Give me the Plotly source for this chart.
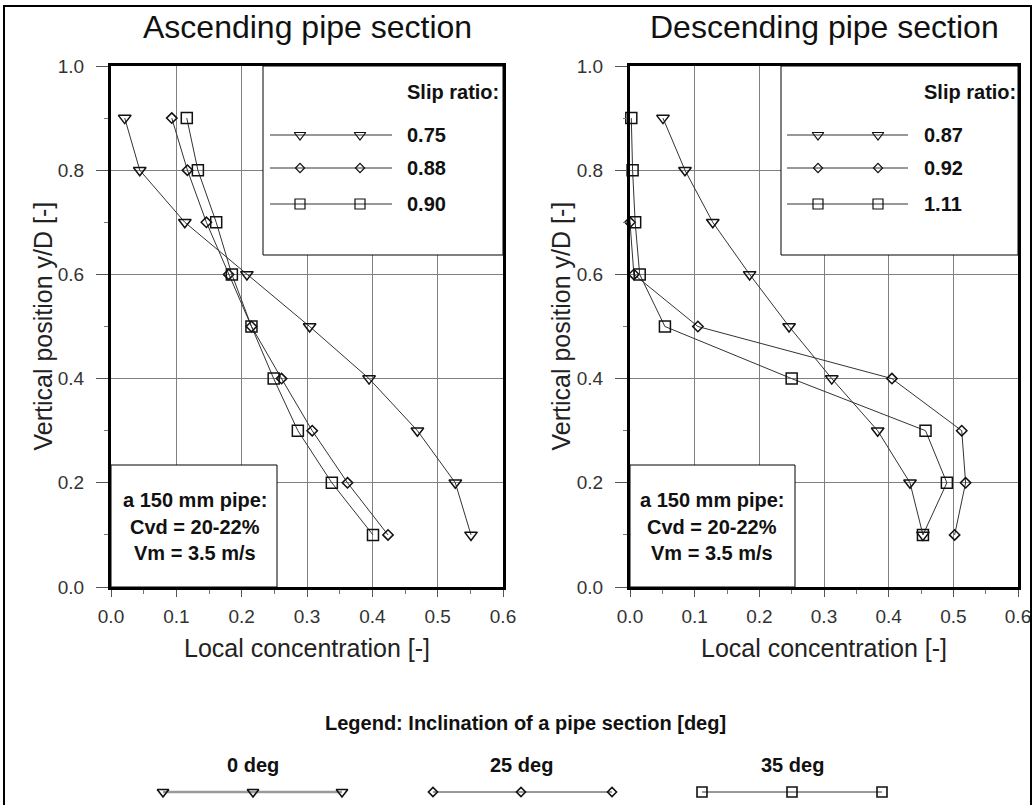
import plotly.graph_objects as go

# ---------------- data ----------------
y_levels = [0.9, 0.8, 0.7, 0.6, 0.5, 0.4, 0.3, 0.2, 0.1]

asc_0deg = [0.021, 0.044, 0.113, 0.208, 0.304, 0.395, 0.469, 0.527, 0.551]
asc_25deg = [0.093, 0.117, 0.146, 0.180, 0.215, 0.261, 0.308, 0.362, 0.424]
asc_35deg = [0.116, 0.133, 0.161, 0.185, 0.215, 0.249, 0.286, 0.338, 0.401]

desc_0deg = [0.051, 0.085, 0.128, 0.185, 0.246, 0.312, 0.383, 0.433, 0.453]
desc_25deg_y = [0.7, 0.6, 0.5, 0.4, 0.3, 0.2, 0.1]
desc_25deg = [0.000, 0.006, 0.105, 0.405, 0.513, 0.519, 0.502]
desc_35deg = [0.002, 0.004, 0.008, 0.015, 0.054, 0.250, 0.457, 0.490, 0.453]

asc_slip = ["0.75", "0.88", "0.90"]
desc_slip = ["0.87", "0.92", "1.11"]
inclinations = ["0 deg", "25 deg", "35 deg"]

x_ticks = [0.0, 0.1, 0.2, 0.3, 0.4, 0.5, 0.6]
y_ticks = [0.0, 0.2, 0.4, 0.6, 0.8, 1.0]

# ---------------- layout constants ----------------
W, H = 1035, 805
FONT = "Liberation Sans, Arial, sans-serif"
symbols = ["triangle-down-open", "diamond-open", "square-open"]
msizes = [11, 8, 11]
LINE_C = "#333333"
MK_C = "#111111"

L_X0, L_X1 = 111, 503
R_X0, R_X1 = 630, 1018
P_Y0, P_Y1 = 66, 587
X_MAX, Y_MAX = 0.6, 1.0


def px(x):
    return x / W


def py(y):
    return 1 - y / H


fig = go.Figure()


# ---------------- white boxes inside the plots (drawn as fill traces) ----------------
def add_box(xa, ya, ax_x0, ax_x1, bx0, bx1, by0, by1):
    def dx(p):
        return (p - ax_x0) / (ax_x1 - ax_x0) * X_MAX

    def dy(p):
        return (P_Y1 - p) / (P_Y1 - P_Y0) * Y_MAX

    xs = [dx(bx0), dx(bx1), dx(bx1), dx(bx0), dx(bx0)]
    ys = [dy(by0), dy(by0), dy(by1), dy(by1), dy(by0)]
    fig.add_trace(go.Scatter(x=xs, y=ys, mode="lines", fill="toself",
                             fillcolor="white", xaxis=xa, yaxis=ya,
                             line=dict(color="black", width=1),
                             showlegend=False, hoverinfo="skip",
                             cliponaxis=False))


add_box("x", "y", L_X0, L_X1, 263, L_X1, P_Y0, 255)
add_box("x", "y", L_X0, L_X1, L_X0, 277, 465, P_Y1)
add_box("x2", "y2", R_X0, R_X1, 781, R_X1, P_Y0, 255)
add_box("x2", "y2", R_X0, R_X1, R_X0, 795, 465, P_Y1)

# ---------------- data traces ----------------
asc_series = [(asc_0deg, y_levels), (asc_25deg, y_levels), (asc_35deg, y_levels)]
desc_series = [(desc_0deg, y_levels), (desc_25deg, desc_25deg_y), (desc_35deg, y_levels)]

for xa, ya, series in [("x", "y", asc_series), ("x2", "y2", desc_series)]:
    for i, (xs, ys) in enumerate(series):
        fig.add_trace(go.Scatter(
            x=xs, y=ys, mode="lines+markers", xaxis=xa, yaxis=ya,
            line=dict(color=LINE_C, width=1),
            marker=dict(symbol=symbols[i], size=msizes[i], color=MK_C,
                        line=dict(color=MK_C, width=1.5)),
            showlegend=False, hoverinfo="skip", cliponaxis=False))

# ---------------- legend samples (overlay pixel axis) ----------------
leg_rows = [135, 168, 204]
for (lx0, lx1, m1, m2, tx, labels) in [
        (270, 392, 300, 360, 405, asc_slip),
        (787, 908, 818, 878, 922, desc_slip)]:
    for i, yy in enumerate(leg_rows):
        fig.add_trace(go.Scatter(
            x=[lx0, lx1], y=[yy, yy], mode="lines", xaxis="x3", yaxis="y3",
            line=dict(color=LINE_C, width=1), showlegend=False, hoverinfo="skip"))
        fig.add_trace(go.Scatter(
            x=[m1, m2], y=[yy, yy], mode="markers", xaxis="x3", yaxis="y3",
            marker=dict(symbol=symbols[i], size=msizes[i] - 1, color=MK_C,
                        line=dict(color=MK_C, width=1.2)),
            showlegend=False, hoverinfo="skip"))
        fig.add_annotation(x=px(tx), y=py(yy), xref="paper", yref="paper",
                           text="<b>%s</b>" % labels[i], showarrow=False,
                           xanchor="left", yanchor="middle",
                           font=dict(family=FONT, size=20, color="#111"))
    fig.add_annotation(x=px(tx), y=py(92), xref="paper", yref="paper",
                       text="<b>Slip ratio:</b>", showarrow=False, xanchor="left",
                       yanchor="middle", font=dict(family=FONT, size=20, color="#111"))

# bottom legend
bottom_groups = [(163, 253, 342), (433, 521, 612), (702, 792, 882)]
bottom_line = [dict(color="#9a9a9a", width=2.5), dict(color=LINE_C, width=1),
               dict(color=LINE_C, width=1)]
for i, xs in enumerate(bottom_groups):
    fig.add_trace(go.Scatter(
        x=list(xs), y=[792] * 3, mode="lines+markers", xaxis="x3", yaxis="y3",
        line=bottom_line[i],
        marker=dict(symbol=symbols[i], size=msizes[i] - 1, color=MK_C,
                    line=dict(color=MK_C, width=1.6)),
        showlegend=False, hoverinfo="skip", cliponaxis=False))
    fig.add_annotation(x=px(xs[1]), y=py(765), xref="paper", yref="paper",
                       text="<b>%s</b>" % inclinations[i], showarrow=False,
                       xanchor="center", yanchor="middle",
                       font=dict(family=FONT, size=20, color="#111"))

fig.add_annotation(x=px(525), y=py(723), xref="paper", yref="paper",
                   text="<b>Legend: Inclination of a pipe section [deg]</b>",
                   showarrow=False, xanchor="center", yanchor="middle",
                   font=dict(family=FONT, size=20, color="#111"))


# ---------------- axes ----------------
def xaxis_cfg(x0, x1, anchor):
    return dict(domain=[px(x0), px(x1)], range=[0, X_MAX], anchor=anchor,
                tickvals=x_ticks, ticktext=["%.1f" % v for v in x_ticks],
                ticks="outside", ticklen=7, tickcolor="#555", tickwidth=1,
                minor=dict(dtick=0.05, ticks="outside", ticklen=4,
                           tickcolor="#777", showgrid=False),
                showgrid=True, gridcolor="#808080", gridwidth=1,
                showline=True, mirror=True, linecolor="black", linewidth=3,
                zeroline=False, ticklabelstandoff=3, automargin=False,
                tickfont=dict(family=FONT, size=19, color="#333"),
                fixedrange=True)


def yaxis_cfg(anchor):
    return dict(domain=[py(P_Y1), py(P_Y0)], range=[0, Y_MAX], anchor=anchor,
                tickvals=y_ticks, ticktext=["%.1f" % v for v in y_ticks],
                ticks="outside", ticklen=12, tickcolor="#555", tickwidth=1,
                minor=dict(dtick=0.1, ticks="outside", ticklen=4,
                           tickcolor="#777", showgrid=False),
                showgrid=True, gridcolor="#808080", gridwidth=1,
                showline=True, mirror=True, linecolor="black", linewidth=3,
                zeroline=False, ticklabelstandoff=8, automargin=False,
                tickfont=dict(family=FONT, size=19, color="#333"),
                fixedrange=True)


fig.update_layout(
    width=W, height=H, autosize=False,
    margin=dict(l=0, r=0, t=0, b=0, pad=0, autoexpand=False),
    paper_bgcolor="white", plot_bgcolor="rgba(0,0,0,0)",
    showlegend=False,
    xaxis=xaxis_cfg(L_X0, L_X1, "y"),
    yaxis=yaxis_cfg("x"),
    xaxis2=xaxis_cfg(R_X0, R_X1, "y2"),
    yaxis2=yaxis_cfg("x2"),
    xaxis3=dict(domain=[0, 1], range=[0, W], anchor="y3", visible=False,
                fixedrange=True, automargin=False),
    yaxis3=dict(domain=[0, 1], range=[H, 0], anchor="x3", visible=False,
                fixedrange=True, automargin=False),
)

# pipe info text
info = ["a 150 mm pipe:", "Cvd = 20-22%", "Vm = 3.5 m/s"]
for cx in [195, 712]:
    for yy, t in zip([500, 527, 553], info):
        fig.add_annotation(x=px(cx), y=py(yy), xref="paper", yref="paper",
                           text="<b>%s</b>" % t, showarrow=False,
                           xanchor="center", yanchor="middle",
                           font=dict(family=FONT, size=20, color="#111"))

# titles and axis labels
for cx, t in [((L_X0 + L_X1) / 2, "Ascending pipe section"),
              ((R_X0 + R_X1) / 2, "Descending pipe section")]:
    fig.add_annotation(x=px(cx), y=py(27), xref="paper", yref="paper", text=t,
                       showarrow=False, xanchor="center", yanchor="middle",
                       font=dict(family=FONT, size=32, color="#111"))
for cx in [(L_X0 + L_X1) / 2, (R_X0 + R_X1) / 2]:
    fig.add_annotation(x=px(cx), y=py(648), xref="paper", yref="paper",
                       text="Local concentration [-]", showarrow=False,
                       xanchor="center", yanchor="middle",
                       font=dict(family=FONT, size=25, color="#222"))
for cx in [42, 560]:
    fig.add_annotation(x=px(cx), y=py((P_Y0 + P_Y1) / 2), xref="paper",
                       yref="paper", text="Vertical position y/D [-]",
                       textangle=-90, showarrow=False, xanchor="center",
                       yanchor="middle",
                       font=dict(family=FONT, size=25, color="#222"))

# outer frame
fig.add_shape(type="rect", xref="paper", yref="paper", x0=px(4), x1=px(1031),
              y0=-0.02, y1=py(6), line=dict(color="black", width=2),
              fillcolor="rgba(0,0,0,0)", layer="above")

fig.write_html(
    "out.html",
    config={"displayModeBar": False, "responsive": False},
    post_script=("document.body.style.margin='0';"
                 "document.body.style.overflow='hidden';"
                 "document.documentElement.style.overflow='hidden';"))
